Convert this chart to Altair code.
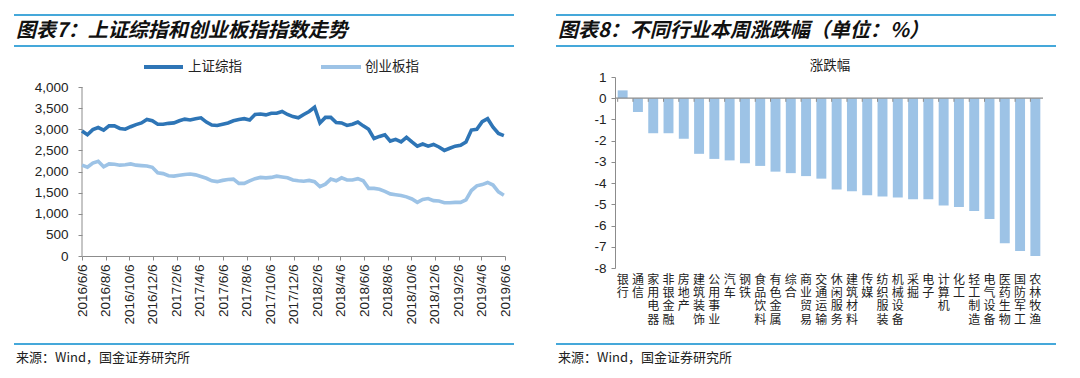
import altair as alt
import pandas as pd

# ---------------- data ----------------
start = "2016-06-06"
dates = [d.strftime("%Y-%m-%d") for d in pd.date_range(start, periods=79, freq="14D")]

sse = [2960, 2870, 2990, 3040, 2980, 3080, 3080, 3020, 3000, 3060,
       3110, 3150, 3230, 3200, 3120, 3120, 3140, 3150, 3200, 3240,
       3220, 3250, 3270, 3170, 3100, 3090, 3120, 3150, 3200, 3230,
       3250, 3220, 3350, 3360, 3340, 3380, 3380, 3420, 3350, 3300,
       3270, 3350, 3420, 3520, 3150, 3280, 3280, 3160, 3150, 3090,
       3120, 3170, 3080, 3000, 2780, 2830, 2870, 2720, 2760, 2700,
       2810, 2700, 2600, 2650, 2600, 2640, 2580, 2500, 2550, 2600,
       2620, 2700, 2980, 3000, 3180, 3250, 3050, 2900, 2850]

cyb = [2150, 2100, 2200, 2240, 2110, 2180, 2170, 2150, 2160, 2180,
       2150, 2140, 2130, 2100, 1970, 1950, 1900, 1890, 1910, 1930,
       1940, 1920, 1880, 1840, 1780, 1760, 1790, 1810, 1820, 1720,
       1720, 1780, 1830, 1860, 1850, 1860, 1890, 1870, 1850, 1800,
       1780, 1770, 1790, 1760, 1640, 1700, 1820, 1780, 1850, 1800,
       1800, 1830, 1780, 1600, 1600, 1580, 1530, 1470, 1450, 1430,
       1400, 1350, 1270, 1340, 1360, 1310, 1300, 1260, 1260, 1270,
       1270, 1330, 1550, 1660, 1690, 1740, 1680, 1520, 1440]

series_names = ["上证综指", "创业板指"]

industries = ["银行", "通信", "家用电器", "非银金融", "房地产", "建筑装饰", "公用事业",
              "汽车", "钢铁", "食品饮料", "有色金属", "综合", "商业贸易", "交通运输",
              "休闲服务", "建筑材料", "传媒", "纺织服装", "机械设备", "采掘", "电子",
              "计算机", "化工", "轻工制造", "电气设备", "医药生物", "国防军工", "农林牧渔"]
changes = [0.37, -0.65, -1.65, -1.65, -1.91, -2.62, -2.86, -2.93, -3.07, -3.19,
           -3.46, -3.53, -3.67, -3.79, -4.3, -4.38, -4.57, -4.63, -4.68, -4.76,
           -4.76, -5.06, -5.12, -5.31, -5.69, -6.83, -7.2, -7.43]

xtick_dates = [(2016, 6), (2016, 8), (2016, 10), (2016, 12), (2017, 2), (2017, 4),
               (2017, 6), (2017, 8), (2017, 10), (2017, 12), (2018, 2), (2018, 4),
               (2018, 6), (2018, 8), (2018, 10), (2018, 12), (2019, 2), (2019, 4),
               (2019, 6)]
y_left_ticks = [0, 500, 1000, 1500, 2000, 2500, 3000, 3500, 4000]
y_right_ticks = [-8, -7, -6, -5, -4, -3, -2, -1, 0, 1]

# ---------------- style ----------------
CJK = "Noto Sans CJK SC"
NUM = "Liberation Sans"
DARK = "#2e75b6"
LIGHT = "#9dc3e6"
RULE = "#45a8da"
AX = "#8c8c8c"
TXT = "#222222"

one = pd.DataFrame({"k": [0]})


def hrule(x1, x2, y, color=RULE, w=2):
    return alt.Chart(one).mark_rule(color=color, strokeWidth=w).encode(
        x=alt.value(x1), x2=alt.value(x2), y=alt.value(y))


def text(s, x, y, size, align="left", **kw):
    return alt.Chart(one).mark_text(text=s, align=align, baseline="middle",
                                    fontSize=size, **kw).encode(
        x=alt.value(x), y=alt.value(y))


# ---------------- left panel ----------------
LW, LH = 423, 179
YMAX = 4000 * 179 / 169  # leaves the headroom above 4,000 that the reference shows

y_axis_left = alt.Axis(title=None, format=",d", values=y_left_ticks, domain=False,
                       grid=False, tickColor=AX, tickSize=4, labelOverlap=False,
                       labelFont=NUM, labelFontSize=13.5, labelColor=TXT, labelPadding=10)
y_scale_left = alt.Scale(domain=[0, YMAX], nice=False)

line_df = pd.DataFrame({
    "date": dates * 2,
    "value": sse + cyb,
    "series": [series_names[0]] * len(dates) + [series_names[1]] * len(dates),
})

lines = alt.Chart(line_df).mark_line(strokeWidth=3.6).encode(
    x=alt.X("date:T",
            scale=alt.Scale(type="utc", domain=[alt.DateTime(year=2016, month=6, date=6, utc=True),
                                                alt.DateTime(year=2019, month=6, date=6, utc=True)]),
            axis=alt.Axis(title=None, format="%Y/%-m/%-d", labelAngle=-90,
                          values=[alt.DateTime(year=y, month=m, date=6, utc=True) for y, m in xtick_dates],
                          grid=False, domainColor=AX, tickColor=AX, tickSize=4,
                          labelFont=NUM, labelFontSize=13.5, labelColor=TXT, labelPadding=4)),
    y=alt.Y("value:Q", scale=y_scale_left, axis=y_axis_left),
    color=alt.Color("series:N", scale=alt.Scale(domain=series_names, range=[DARK, LIGHT]), legend=None),
    order=alt.Order("series:N", sort="descending"),
)

yline_left = alt.Chart(one).mark_rule(color=AX, strokeWidth=1).encode(
    x=alt.value(0),
    y=alt.Y(datum=0, scale=y_scale_left, axis=y_axis_left),
    y2=alt.Y2(datum=4000))

left = alt.layer(
    hrule(-68, 432, -62),
    text("图表7：上证综指和创业板指指数走势", -66, -46, 20, font=CJK, fontStyle="italic",
         fontWeight="bold", color="#111"),
    hrule(-68, 432, -31),
    hrule(62, 101, -10, DARK, 4),
    text(series_names[0], 106, -10, 13.5, font=CJK, color=TXT),
    hrule(239, 279, -10, LIGHT, 4),
    text(series_names[1], 283, -10, 13.5, font=CJK, color=TXT),
    yline_left,
    lines,
    hrule(-68, 432, 267),
    text("来源：Wind，国金证券研究所", -66, 281, 13, font=CJK, color=TXT),
).properties(width=LW, height=LH)

# ---------------- right panel ----------------
RW, RH = 428, 191
bar_df = pd.DataFrame({"industry": industries, "change": changes})

x_axis_right = alt.Axis(title=None, labelAngle=0, domain=False, ticks=False,
                        labelExpr="split(datum.label, '')", labelFont=CJK,
                        labelFontSize=12, labelLineHeight=13.4, labelColor=TXT,
                        labelBaseline="top", labelPadding=6, labelOverlap=False)
x_scale_right = alt.Scale(paddingInner=0.35)
y_axis_right = alt.Axis(title=None, values=y_right_ticks, labelExpr="'' + datum.value",
                        grid=False, domainColor=AX, tickColor=AX, tickSize=4,
                        labelOverlap=False,
                        labelFont=NUM, labelFontSize=13.5, labelColor=TXT, labelPadding=5)
y_scale_right = alt.Scale(domain=[-8, 1], nice=False)

bars = alt.Chart(bar_df).mark_bar(color=LIGHT).encode(
    x=alt.X("industry:N", sort=None, scale=x_scale_right, axis=x_axis_right),
    y=alt.Y("change:Q", scale=y_scale_right, axis=y_axis_right),
)

zero = alt.Chart(one).mark_rule(color=AX, strokeWidth=1.2).encode(
    y=alt.Y(datum=0, scale=y_scale_right, axis=y_axis_right))
zticks = alt.Chart(bar_df).mark_rule(color=AX, strokeWidth=1).encode(
    x=alt.X("industry:N", sort=None, bandPosition=0, scale=x_scale_right, axis=x_axis_right),
    y=alt.Y(datum=0, scale=y_scale_right, axis=y_axis_right),
    y2=alt.Y2(datum=-0.17))

right = alt.layer(
    hrule(-59, 441, -62),
    text("图表8：不同行业本周涨跌幅（单位：%）", -57, -46, 20, font=CJK, fontStyle="italic",
         fontWeight="bold", color="#111"),
    hrule(-59, 441, -31),
    text("涨跌幅", 215, -11, 13.5, align="center", font=CJK, color=TXT),
    bars, zero, zticks,
    hrule(-59, 441, 267),
    text("来源：Wind，国金证券研究所", -57, 281, 13, font=CJK, color=TXT),
).properties(width=RW, height=RH)

chart = alt.hconcat(left, right, spacing=40).configure_view(
    stroke=None
).properties(padding={"left": 5, "top": 6, "right": 5, "bottom": 5})

chart.save("out.html", embed_options={"renderer": "svg", "actions": False})
